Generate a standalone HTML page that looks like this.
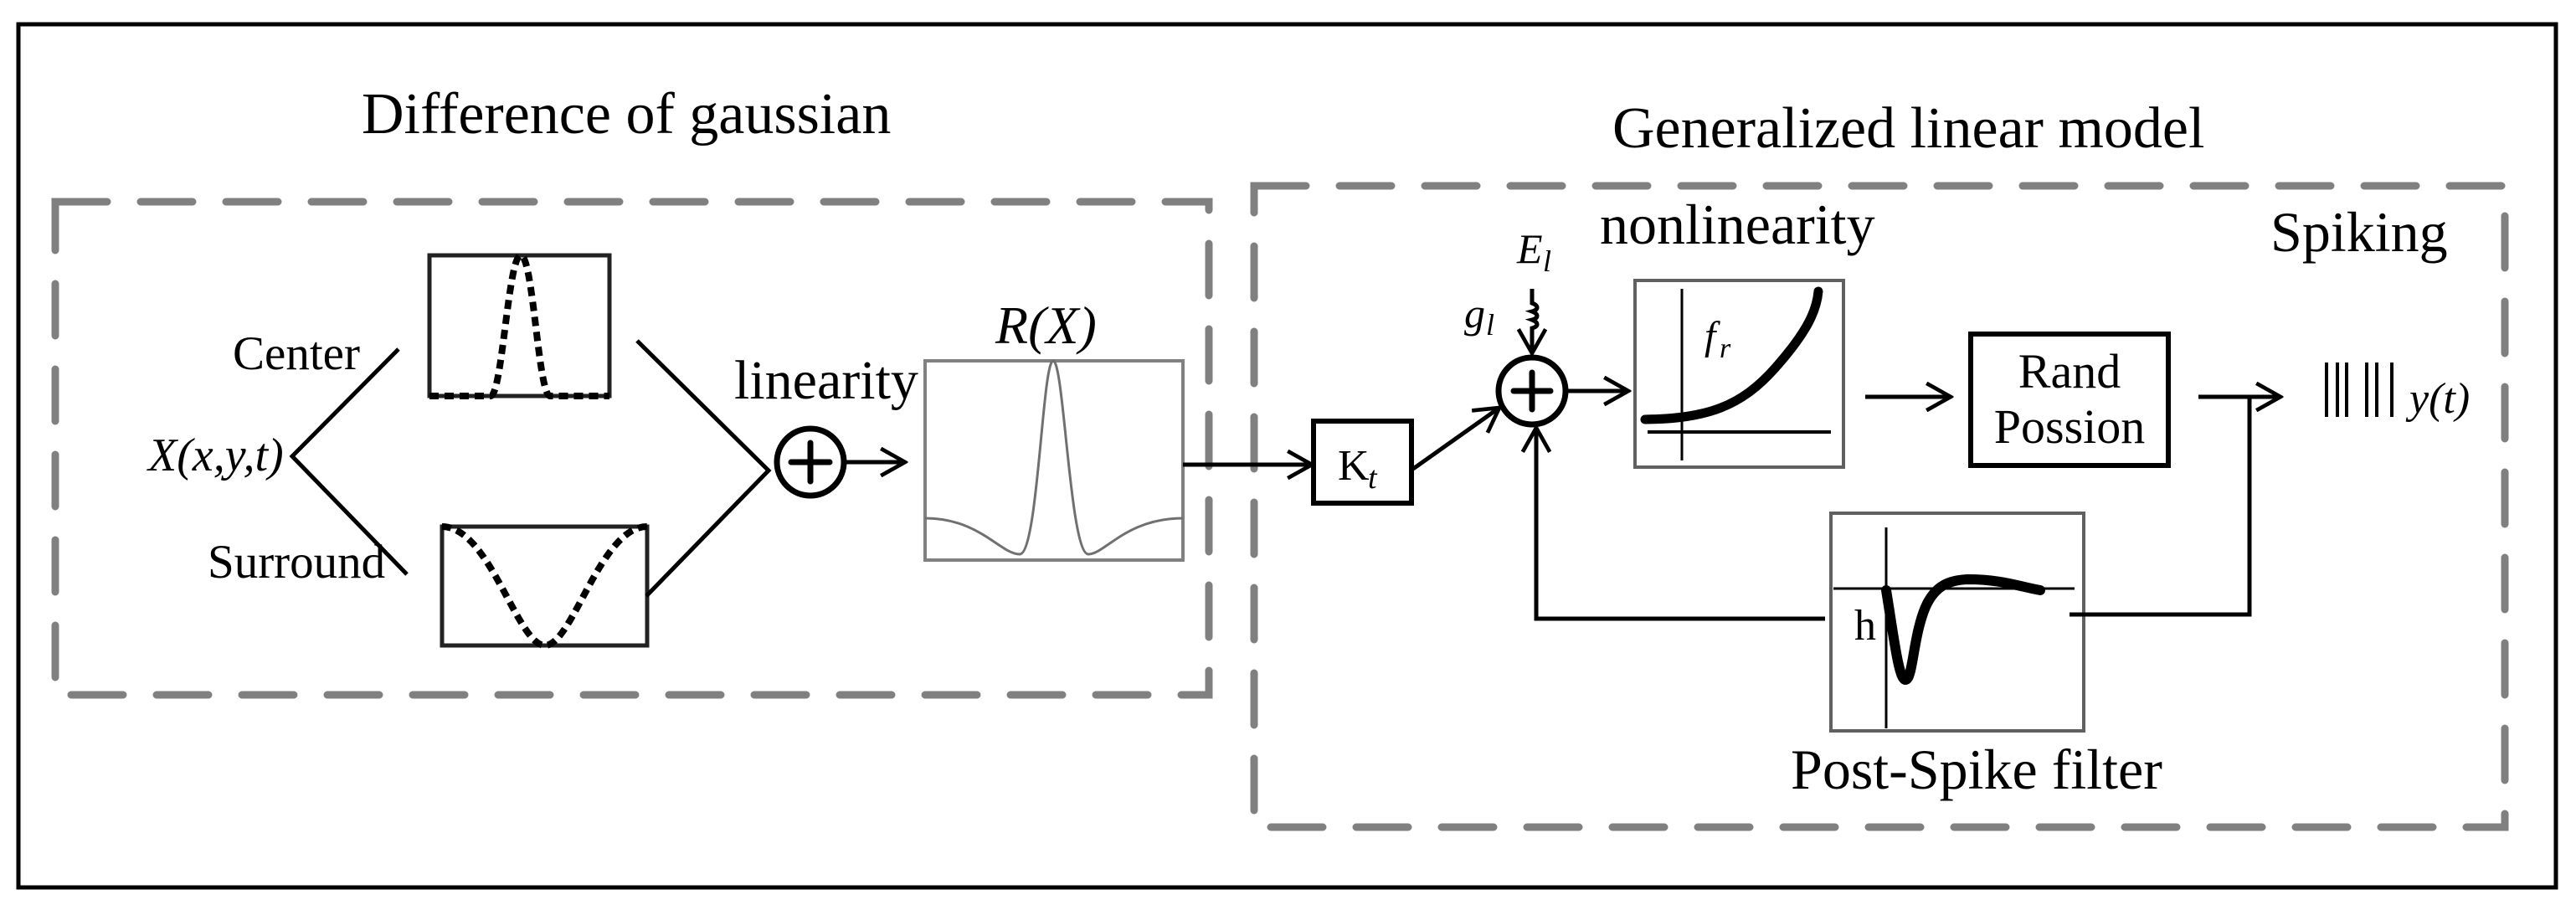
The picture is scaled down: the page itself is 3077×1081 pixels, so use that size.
<!DOCTYPE html>
<html><head><meta charset="utf-8"><style>
html,body{margin:0;padding:0;background:#fff;}
svg{display:block;}
text{font-family:"Liberation Serif",serif;fill:#000;}
</style></head><body>
<svg width="3077" height="1081" viewBox="0 0 3077 1081" xmlns="http://www.w3.org/2000/svg">
<defs>
<marker id="ahb" viewBox="0 0 20 20" refX="18" refY="10" markerWidth="36" markerHeight="36" markerUnits="userSpaceOnUse" orient="auto">
<path d="M2,1 L18,10 L2,19" fill="none" stroke="#000" stroke-width="2.6"/>
</marker>
</defs>
<rect x="22" y="29" width="3031" height="1031" fill="none" stroke="#000" stroke-width="5"/>

<rect x="66" y="241" width="1378" height="589" fill="none" stroke="#808080" stroke-width="9" stroke-dasharray="62 40" stroke-linecap="round"/>
<rect x="1498" y="222" width="1494" height="766" fill="none" stroke="#808080" stroke-width="9" stroke-dasharray="62 40" stroke-linecap="round"/>

<text x="432" y="159" font-size="70">Difference of gaussian</text>
<text x="1926" y="176" font-size="70">Generalized linear model</text>

<text x="278" y="441" font-size="57">Center</text>
<text x="248" y="690" font-size="57">Surround</text>
<text x="177" y="562" font-size="56" font-style="italic">X(x,y,t)</text>
<polyline points="476,417 349,545 486,686" fill="none" stroke="#000" stroke-width="5"/>

<rect x="513" y="305" width="215" height="168" fill="none" stroke="#222" stroke-width="5"/>
<path d="M513,473 L586,473 C600,473 607,305 622,305 C637,305 643,473 657,473 L728,473" fill="none" stroke="#000" stroke-width="8" stroke-dasharray="11 7" stroke-linecap="butt"/>
<rect x="528" y="629" width="245" height="142" fill="none" stroke="#222" stroke-width="5"/>
<path d="M528,629 C585,629 618,771 651,771 C684,771 717,629 773,629" fill="none" stroke="#000" stroke-width="8" stroke-dasharray="11 7" stroke-linecap="butt"/>

<polyline points="761,407 918,562 772,712" fill="none" stroke="#000" stroke-width="5"/>

<circle cx="968" cy="552" r="40" fill="#fff" stroke="#000" stroke-width="7"/>
<line x1="945" y1="552" x2="991" y2="552" stroke="#000" stroke-width="7" stroke-linecap="round"/>
<line x1="968" y1="529" x2="968" y2="575" stroke="#000" stroke-width="7" stroke-linecap="round"/>
<text x="877" y="476" font-size="66">linearity</text>
<line x1="1010" y1="552" x2="1081" y2="552" stroke="#000" stroke-width="5" marker-end="url(#ahb)"/>

<text x="1189" y="410" font-size="64" font-style="italic">R(X)</text>
<rect x="1105" y="431" width="308" height="238" fill="#fff" stroke="#808080" stroke-width="4"/>
<path d="M1105,619 C1170,619 1195,662 1218,662 C1240,662 1245,431 1258,431 C1271,431 1278,662 1300,662 C1320,662 1345,619 1413,619" fill="none" stroke="#707070" stroke-width="3"/>

<line x1="1413" y1="555" x2="1567" y2="555" stroke="#000" stroke-width="5" marker-end="url(#ahb)"/>
<rect x="1569" y="503" width="117" height="98" fill="#fff" stroke="#000" stroke-width="6"/>
<text x="1598" y="573" font-size="52">K</text><text x="1634" y="583" font-size="38" font-style="italic">t</text>
<line x1="1688" y1="560" x2="1791" y2="487" stroke="#000" stroke-width="5" marker-end="url(#ahb)"/>

<text x="1812" y="314" font-size="50" font-style="italic">E</text><text x="1843" y="324" font-size="36" font-style="italic">l</text>
<text x="1749" y="391" font-size="50" font-style="italic">g</text><text x="1775" y="400" font-size="36" font-style="italic">l</text>
<path d="M1830,345 L1830,362 C1838,365 1838,370 1830,372 C1838,375 1838,380 1830,382 C1838,385 1838,390 1830,392 L1830,422" fill="none" stroke="#000" stroke-width="5" marker-end="url(#ahb)"/>

<circle cx="1830" cy="467" r="40" fill="#fff" stroke="#000" stroke-width="7"/>
<line x1="1808" y1="467" x2="1852" y2="467" stroke="#000" stroke-width="7" stroke-linecap="round"/>
<line x1="1830" y1="445" x2="1830" y2="489" stroke="#000" stroke-width="7" stroke-linecap="round"/>
<line x1="1872" y1="467" x2="1945" y2="467" stroke="#000" stroke-width="5" marker-end="url(#ahb)"/>

<text x="1911" y="291" font-size="68">nonlinearity</text>
<rect x="1953" y="335" width="249" height="223" fill="#fff" stroke="#606060" stroke-width="4"/>
<line x1="2009" y1="345" x2="2009" y2="550" stroke="#000" stroke-width="3"/>
<line x1="1968" y1="516" x2="2187" y2="516" stroke="#000" stroke-width="4"/>
<path d="M1965,501 C2040,500 2080,485 2120,440 C2160,395 2170,370 2172,348" fill="none" stroke="#000" stroke-width="11" stroke-linecap="round"/>
<text x="2036" y="417" font-size="48" font-style="italic">f</text><text x="2054" y="427" font-size="34" font-style="italic">r</text>

<line x1="2228" y1="474" x2="2330" y2="474" stroke="#000" stroke-width="5" marker-end="url(#ahb)"/>
<rect x="2354" y="399" width="236" height="157" fill="#fff" stroke="#000" stroke-width="6"/>
<text x="2472" y="463" font-size="58" text-anchor="middle">Rand</text>
<text x="2472" y="529" font-size="58" text-anchor="middle">Possion</text>
<line x1="2626" y1="474" x2="2724" y2="474" stroke="#000" stroke-width="5" marker-end="url(#ahb)"/>
<polyline points="2687,474 2687,734 2472,734" fill="none" stroke="#000" stroke-width="5"/>

<g stroke="#000" stroke-width="4">
<line x1="2779" y1="433" x2="2779" y2="498"/><line x1="2792" y1="433" x2="2792" y2="498"/><line x1="2803" y1="433" x2="2803" y2="498"/>
<line x1="2827" y1="433" x2="2827" y2="498"/><line x1="2839" y1="433" x2="2839" y2="498"/><line x1="2857" y1="433" x2="2857" y2="498"/>
</g>
<text x="2878" y="493" font-size="52" font-style="italic">y(t)</text>
<text x="2712" y="300" font-size="68">Spiking</text>

<rect x="2187" y="613" width="302" height="260" fill="#fff" stroke="#606060" stroke-width="4"/>
<line x1="2190" y1="703" x2="2478" y2="703" stroke="#000" stroke-width="3"/>
<line x1="2253" y1="630" x2="2253" y2="870" stroke="#000" stroke-width="3"/>
<path d="M2253,705 C2262,760 2268,812 2276,812 C2285,812 2285,760 2300,725 C2312,698 2330,693 2350,692 C2390,692 2410,700 2437,705" fill="none" stroke="#000" stroke-width="12" stroke-linecap="round"/>
<text x="2215" y="764" font-size="52">h</text>
<line x1="2472" y1="734" x2="2499" y2="734" stroke="#000" stroke-width="5"/>
<polyline points="2180,739 1835,739 1835,511" fill="none" stroke="#000" stroke-width="5" marker-end="url(#ahb)"/>
<text x="2139" y="942" font-size="68">Post-Spike filter</text>
</svg>
</body></html>
